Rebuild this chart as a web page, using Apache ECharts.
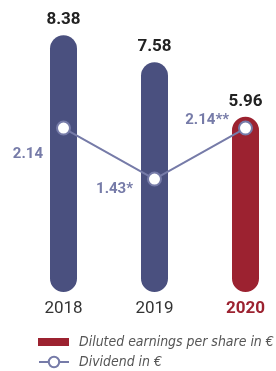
<!DOCTYPE html>
<html>
<head>
<meta charset="utf-8">
<script src="https://cdn.jsdelivr.net/npm/echarts@6/dist/echarts.min.js"></script>
<style>
  html, body { margin: 0; padding: 0; background: #fff; }
  #chart { width: 276px; height: 371px; }
</style>
</head>
<body>
<div id="chart"></div>
<script>
var years = ['2018', '2019', '2020'];
var earnings = [8.38, 7.58, 5.96];
var dividend = [2.14, 1.43, 2.14];
var dividendLabels = ['2.14', '1.43*', '2.14**'];
var seriesNames = ['Diluted earnings per share in €', 'Dividend in €'];

var navy = '#4a507f';
var red = '#9c2230';
var lilac = '#767ba8';

// pick a legend font size so the long entry spans about 195px
var legendFont = '"Liberation Sans Narrow", "DejaVu Sans Condensed", sans-serif';
var ctx = document.createElement('canvas').getContext('2d');
ctx.font = 'italic 16px ' + legendFont;
var legendSize = Math.min(17, 16 * 195 / ctx.measureText(seriesNames[0]).width);

var myChart = echarts.init(document.getElementById('chart'));

// label nudges for the dividend points
var labelOffsets = [[-13, 26], [-14, 10], [-9, -8]];

var legendText = {
    fontFamily: legendFont, fontStyle: 'italic', fontSize: legendSize,
    color: '#555', padding: [0, 0, 0, 5]
};

option = {
    animation: false,
    grid: { left: 18, top: 20, width: 273, height: 272, outerBoundsMode: 'none', containLabel: false },
    legend: [{
        data: [seriesNames[0]],
        left: 38, top: 335, padding: 0,
        icon: 'rect',
        itemWidth: 31, itemHeight: 8,
        textStyle: legendText
    }, {
        data: [seriesNames[1]],
        left: 38, top: 355, padding: 0,
        itemWidth: 30, itemHeight: 13,
        textStyle: legendText
    }],
    xAxis: {
        type: 'category',
        data: years.map(function (y, i) {
            return i === years.length - 1
                ? { value: y, textStyle: { color: red, fontWeight: 'bold' } }
                : y;
        }),
        axisLine: { show: false },
        axisTick: { show: false },
        axisLabel: { margin: 8, fontSize: 17, color: '#333', fontFamily: 'Roboto' }
    },
    yAxis: [{
        type: 'value', min: 0.77, max: 8.83, startValue: 0.77,
        show: false
    }, {
        type: 'value', min: -0.143, max: 3.645,
        show: false
    }],
    series: [{
        name: seriesNames[0],
        type: 'bar',
        barWidth: 27,
        data: earnings.map(function (v, i) {
            return i === earnings.length - 1 ? v : { value: v, itemStyle: { color: navy } };
        }),
        itemStyle: { color: red, borderRadius: 13.5 },
        label: {
            show: true, position: 'top', distance: 7,
            fontFamily: 'Roboto', fontWeight: 'bold', fontSize: 17, color: '#222'
        }
    }, {
        name: seriesNames[1],
        type: 'line',
        yAxisIndex: 1,
        z: 5,
        symbol: 'circle',
        symbolSize: 13,
        lineStyle: { color: lilac, width: 2 },
        itemStyle: { color: '#fff', borderColor: lilac, borderWidth: 2 },
        data: dividend.map(function (v, i) {
            return {
                value: v,
                label: {
                    show: true, position: 'left', distance: 0,
                    offset: labelOffsets[i],
                    formatter: dividendLabels[i]
                }
            };
        }),
        label: { fontFamily: 'Roboto', fontWeight: 'bold', fontSize: 15, color: lilac }
    }]
};

myChart.setOption(option);
</script>
</body>
</html>
